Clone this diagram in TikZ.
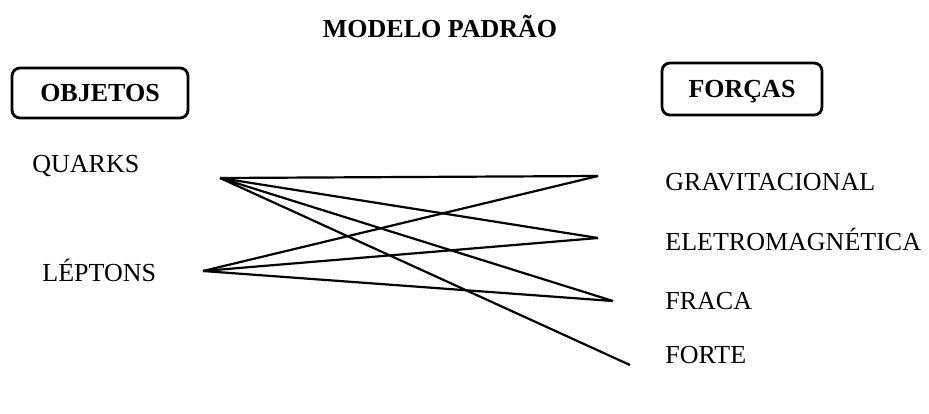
\documentclass[tikz,border=0pt]{standalone}
\usepackage{fontspec}
\setmainfont{Liberation Serif}
\usepackage{tikz}
\usetikzlibrary{positioning}

\begin{document}
\begin{tikzpicture}[x=0.5pt,y=-0.5pt,
    lbl/.style={font=\fontsize{13}{15}\selectfont,inner sep=0pt,anchor=base west},
    headbox/.style={draw,line width=1.4pt,rounded corners=4pt,inner sep=0pt,
                    text height=8.6pt,text depth=0pt,
                    font=\fontsize{13}{15}\selectfont\bfseries},
    link/.style={line width=1.1pt}]
    \useasboundingbox (0,0) rectangle (929,413);
    % title and headers
    \node[font=\fontsize{13}{15}\selectfont\bfseries,inner sep=0pt,anchor=base] (title) at (440,37) {MODELO PADRÃO};
    \node[headbox,minimum width=88pt,minimum height=25pt] (obj) at (100,93) {OBJETOS};
    \node[headbox,minimum width=80pt,minimum height=26pt] (forc) at (742,89) {FORÇAS};
    % objects
    \node[lbl] (quarks) at (32,172) {QUARKS};
    \node[lbl] (leptons) at (42,281) {LÉPTONS};
    % forces
    \foreach \n/\y/\t in {grav/190/GRAVITACIONAL, elmg/250/ELETROMAGNÉTICA, frac/309/FRACA, fort/363/FORTE}{
      \node[lbl] (\n) at (665,\y) {\t};
    }
    % line ends
    \coordinate (q) at (220,178);
    \coordinate (l) at (203,271);
    \coordinate (g) at (598,176);
    \coordinate (e) at (598,238);
    \coordinate (f) at (613,301);
    \coordinate (s) at (630,365);
    \foreach \e in {g,e,f,s}{
      \draw[link] (q) -- (\e);
    }
    \foreach \e in {g,e,f}{
      \draw[link] (l) -- (\e);
    }
\end{tikzpicture}
\end{document}
